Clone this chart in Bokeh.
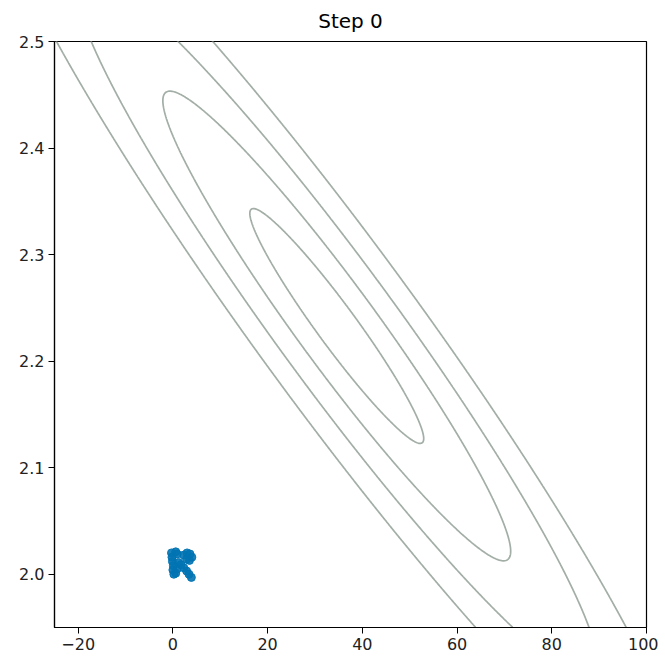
import numpy as np
from bokeh.plotting import figure
from bokeh.models import FixedTicker, Range1d
from bokeh.embed import file_html
from bokeh.resources import INLINE

title_text = "Step 0"
x_ticks = [-20, 0, 20, 40, 60, 80, 100]
x_tick_labels = ["\u221220", "0", "20", "40", "60", "80", "100"]
y_ticks = [2.0, 2.1, 2.2, 2.3, 2.4, 2.5]
y_tick_labels = ["2.0", "2.1", "2.2", "2.3", "2.4", "2.5"]

# quadratic loss surface: centre, curvature matrix and contour levels
loss_center_x = 34.6
loss_center_y = 2.233
hess_xx = 0.0372
hess_xy = 5.945
hess_yy = 1032.4
contour_levels = [1, 4, 9, 16]

# sampled parameter points at step 0
points_x = [-0.3, 0.6, 0.9, -0.2, -0.1, 0.1, 0.0, 0.2, 0.6, 0.9,
            1.2, 1.7,
            2.3, 3.0, 3.6, 4.0, 2.9, 3.5,
            2.3, 2.9, 3.4, 3.9]
points_y = [2.020, 2.021, 2.019, 2.016, 2.012, 2.008, 2.004, 2.000, 2.001, 2.005,
            2.011, 2.009,
            2.018, 2.020, 2.019, 2.016, 2.014, 2.013,
            2.006, 2.003, 2.000, 1.997]

p = figure(width=658, height=653, output_backend="svg", toolbar_location=None,
           x_range=Range1d(-25, 100), y_range=Range1d(1.95, 2.5),
           min_border_left=54, min_border_right=12, min_border_top=41,
           min_border_bottom=26, title=title_text)

gx = np.linspace(-32, 107, 600)
gy = np.linspace(1.92, 2.53, 600)
X, Y = np.meshgrid(gx, gy)
DX = X - loss_center_x
DY = Y - loss_center_y
Z = hess_xx * DX**2 + 2 * hess_xy * DX * DY + hess_yy * DY**2

p.contour(X, Y, Z, levels=contour_levels, line_color="#a2aea6", line_width=1.7)

p.scatter(points_x, points_y, size=8, color="#0173B2", alpha=0.9)

p.grid.visible = False
p.outline_line_color = "black"
p.outline_line_width = 1.2
p.background_fill_color = "white"
p.border_fill_color = "white"

p.title.align = "center"
p.title.vertical_align = "top"
p.title.text_font = "DejaVu Sans"
p.title.text_font_size = "20px"
p.title.text_font_style = "normal"
p.title.text_color = "black"
p.title.standoff = 13

for ax, ticks, labels in ((p.xaxis, x_ticks, x_tick_labels), (p.yaxis, y_ticks, y_tick_labels)):
    ax.ticker = FixedTicker(ticks=ticks)
    ax.major_label_overrides = dict(zip(ticks, labels))
    ax.minor_tick_line_color = None
    ax.major_tick_out = 6
    ax.major_tick_in = 0
    ax.major_tick_line_color = "black"
    ax.axis_line_color = "black"
    ax.axis_line_width = 1.2
    ax.major_label_text_font = "DejaVu Sans"
    ax.major_label_text_font_size = "16px"
    ax.major_label_text_color = "#222222"
    ax.major_label_standoff = 4

open("out.html", "w").write(file_html(p, INLINE))
